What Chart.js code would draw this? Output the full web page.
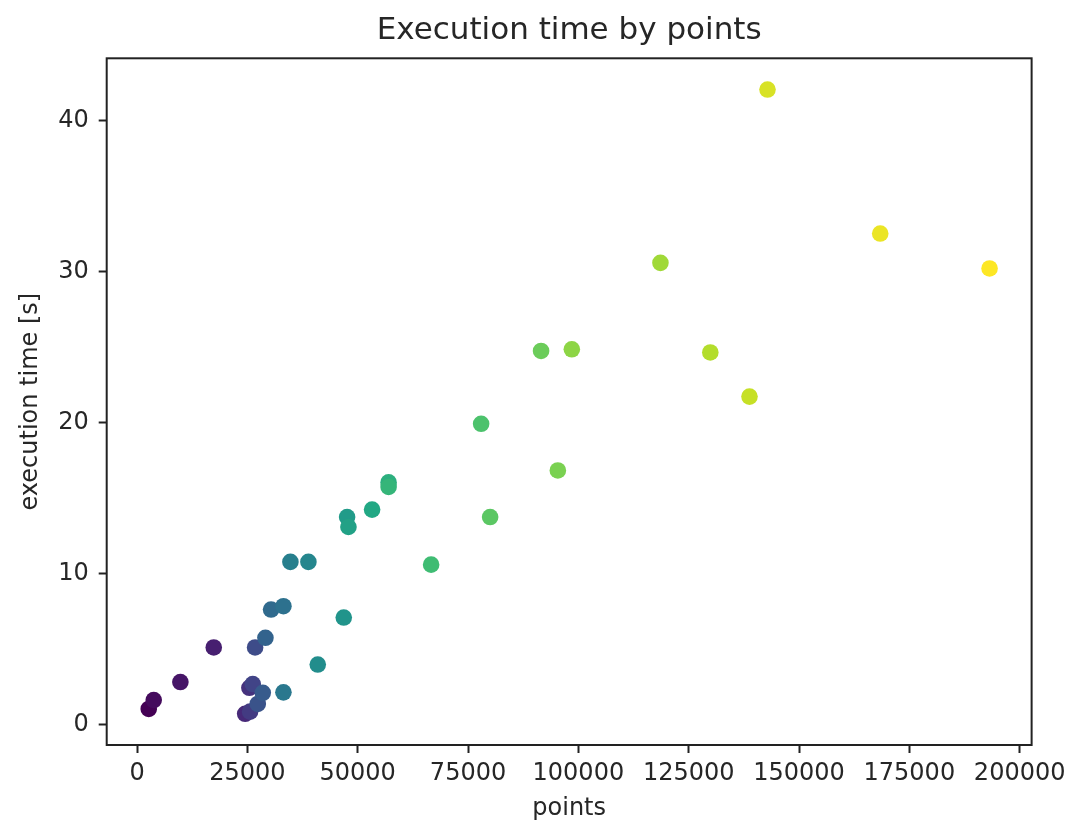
<!DOCTYPE html>
<html>
<head>
<meta charset="utf-8">
<script src="https://cdn.jsdelivr.net/npm/chart.js@4/dist/chart.umd.min.js"></script>
<style>
  html, body { margin: 0; padding: 0; background: #ffffff; }
  #wrap { width: 1072px; height: 823px; }
</style>
</head>
<body>
<div id="wrap"><canvas id="c" width="1072" height="823"></canvas></div>
<script>
// Number of points per run, sorted ascending
const points = [2650, 3780, 9820, 17380, 24500, 25460, 25610, 26220, 26750, 27350,
  28490, 29090, 30370, 33170, 33170, 34750, 38830, 40950, 46840, 47600,
  47900, 53260, 57000, 57000, 66640, 77970, 80010, 91550, 95350, 98520,
  118600, 129900, 138780, 142860, 168400, 193180];

// Execution time of each run, in seconds
const execTime = [1.06, 1.65, 2.84, 5.13, 0.74, 2.46, 0.88, 2.71, 5.13, 1.39,
  2.13, 5.77, 7.64, 7.86, 2.16, 10.79, 10.79, 4.0, 7.11, 13.76,
  13.1, 14.25, 16.05, 15.75, 10.61, 19.93, 13.76, 24.75, 16.84, 24.86,
  30.58, 24.65, 21.73, 42.05, 32.52, 30.21];

const xTicks = [0, 25000, 50000, 75000, 100000, 125000, 150000, 175000, 200000];
const yTicks = [0, 10, 20, 30, 40];

// viridis colour stops, used to shade each run by its position in the series
const viridis = ['#440154', '#482475', '#414487', '#355f8d', '#2a788e', '#21918c',
  '#22a884', '#44bf70', '#7ad151', '#bddf26', '#fde725'];

function hexToRgb(h) {
  return [parseInt(h.slice(1, 3), 16), parseInt(h.slice(3, 5), 16), parseInt(h.slice(5, 7), 16)];
}
function viridisAt(t) {
  const s = Math.max(0, Math.min(1, t)) * (viridis.length - 1);
  const i = Math.min(Math.floor(s), viridis.length - 2);
  const f = s - i;
  const a = hexToRgb(viridis[i]), b = hexToRgb(viridis[i + 1]);
  const c = a.map((v, k) => Math.round(v + (b[k] - v) * f));
  return 'rgb(' + c.join(',') + ')';
}

const n = points.length;
const colors = points.map((_, i) => viridisAt(i / (n - 1)));
const data = points.map((x, i) => ({ x: x, y: execTime[i] }));

// 5% margins around the data, as in the usual autoscaled plot
function padded(arr) {
  const lo = Math.min(...arr), hi = Math.max(...arr), span = hi - lo;
  return { min: lo - 0.05 * span, max: hi + 0.05 * span };
}
const xr = padded(points), yr = padded(execTime);

const FONT = 'DejaVu Sans';
const INK = '#262626';

// frame around the plotting area, drawn over the markers
const framePlugin = {
  id: 'frame',
  afterDraw(chart) {
    const a = chart.chartArea, ctx = chart.ctx;
    ctx.save();
    ctx.strokeStyle = '#222222';
    ctx.lineWidth = 2;
    ctx.strokeRect(a.left, a.top, a.right - a.left, a.bottom - a.top);
    ctx.restore();
  }
};

new Chart(document.getElementById('c'), {
  type: 'scatter',
  data: {
    datasets: [{
      data: data,
      pointBackgroundColor: colors,
      pointBorderWidth: 0,
      pointBorderColor: 'rgba(0,0,0,0)',
      pointRadius: 8.3,
      pointHoverRadius: 8.3
    }]
  },
  options: {
    responsive: false,
    animation: false,
    events: [],
    layout: { padding: { left: 0, right: 40.3, top: 12, bottom: 0 } },
    plugins: {
      legend: { display: false },
      tooltip: { enabled: false },
      title: {
        display: true,
        fullSize: false,
        text: 'Execution time by points',
        color: INK,
        font: { family: FONT, size: 31, weight: 'normal' },
        padding: { top: 0, bottom: 9.1 }
      }
    },
    scales: {
      x: {
        type: 'linear',
        min: xr.min,
        max: xr.max,
        afterBuildTicks(scale) { scale.ticks = xTicks.map(v => ({ value: v })); },
        afterFit(scale) { scale.height = 78; },
        border: { display: false },
        grid: {
          drawOnChartArea: false,
          drawTicks: true,
          tickLength: 8,
          tickWidth: 2,
          tickColor: '#222222'
        },
        ticks: {
          color: INK,
          font: { family: FONT, size: 24 },
          padding: 6,
          maxRotation: 0,
          autoSkip: false,
          callback: v => String(v)
        },
        title: {
          display: true,
          text: 'points',
          color: INK,
          font: { family: FONT, size: 24 },
          padding: { top: 0, bottom: 0 }
        }
      },
      y: {
        type: 'linear',
        min: yr.min,
        max: yr.max,
        afterBuildTicks(scale) { scale.ticks = yTicks.map(v => ({ value: v })); },
        afterFit(scale) { scale.width = 106.7; },
        border: { display: false },
        grid: {
          drawOnChartArea: false,
          drawTicks: true,
          tickLength: 8,
          tickWidth: 2,
          tickColor: '#222222'
        },
        ticks: {
          color: INK,
          font: { family: FONT, size: 24 },
          padding: 10,
          autoSkip: false,
          callback: v => String(v)
        },
        title: {
          display: true,
          text: 'execution time [s]',
          color: INK,
          font: { family: FONT, size: 24 },
          padding: { top: 16, bottom: 0 }
        }
      }
    }
  },
  plugins: [framePlugin]
});
</script>
</body>
</html>
